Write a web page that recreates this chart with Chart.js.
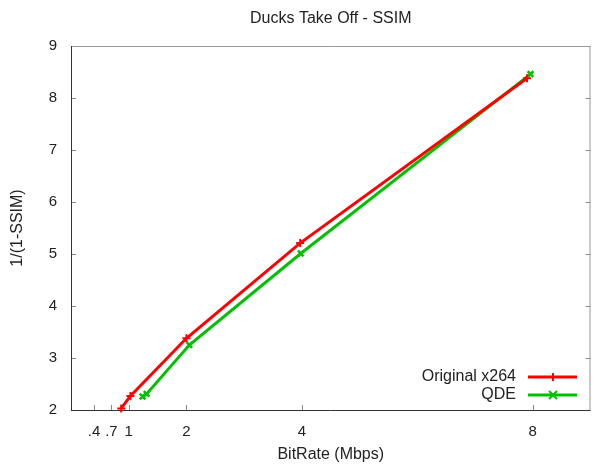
<!DOCTYPE html>
<html>
<head>
<meta charset="utf-8">
<script src="https://cdn.jsdelivr.net/npm/chart.js@4"></script>
<style>
html,body{margin:0;padding:0;background:#fff;}
#wrap{width:597px;height:468px;position:relative;}
</style>
</head>
<body>
<div id="wrap"><canvas id="c" width="597" height="468"></canvas></div>
<script>
// ---- data ----
const titleText = 'Ducks Take Off - SSIM';
const xTitle = 'BitRate (Mbps)';
const yTitle = '1/(1-SSIM)';
const seriesNames = ['Original x264', 'QDE'];
const origX = [0.87, 1.03, 2.00, 3.97, 7.90];
const origY = [2.03, 2.27, 3.38, 5.21, 8.38];
const qdeX  = [1.24, 1.31, 2.05, 3.98, 7.96];
const qdeY  = [2.26, 2.31, 3.25, 5.01, 8.46];
const xTickValues = [0.4, 0.7, 1, 2, 4, 8];
const xTickLabels = ['.4', '.7', '1', '2', '4', '8'];
const yTickValues = [2, 3, 4, 5, 6, 7, 8, 9];

const FONT = '"Liberation Sans", Arial, sans-serif';
const pts = (xs, ys) => xs.map((x, i) => ({x: x, y: ys[i]}));

const framePlugin = {
  id: 'frame',
  beforeDatasetsDraw(chart) {
    const {ctx, chartArea: a, scales} = chart;
    ctx.save();
    // ticks
    ctx.strokeStyle = '#888';
    ctx.lineWidth = 1;
    ctx.beginPath();
    yTickValues.forEach(v => {
      const y = Math.round(scales.y.getPixelForValue(v)) + 0.5;
      ctx.moveTo(a.left, y); ctx.lineTo(a.left + 5, y);
      ctx.moveTo(a.right, y); ctx.lineTo(a.right - 5, y);
    });
    xTickValues.forEach(v => {
      const x = Math.round(scales.x.getPixelForValue(v)) + 0.5;
      ctx.moveTo(x, a.bottom); ctx.lineTo(x, a.bottom - 5);
    });
    ctx.stroke();
    // border
    ctx.lineWidth = 1;
    ctx.strokeStyle = '#999';
    ctx.beginPath();
    ctx.moveTo(a.left, a.top + 0.5); ctx.lineTo(a.right, a.top + 0.5);
    ctx.moveTo(a.right - 0.5, a.top); ctx.lineTo(a.right - 0.5, a.bottom);
    ctx.stroke();
    ctx.strokeStyle = '#333';
    ctx.beginPath();
    ctx.moveTo(a.left + 0.5, a.top); ctx.lineTo(a.left + 0.5, a.bottom);
    ctx.moveTo(a.left, a.bottom + 0.5); ctx.lineTo(a.right, a.bottom + 0.5);
    ctx.stroke();
    ctx.restore();
  },
  afterDraw(chart) {
    const {ctx, chartArea: a} = chart;
    ctx.save();
    ctx.fillStyle = '#222';
    ctx.textAlign = 'center';
    ctx.textBaseline = 'middle';
    ctx.font = '16px ' + FONT;
    ctx.fillText(titleText, (a.left + a.right) / 2, 19);
    ctx.fillText(xTitle, (a.left + a.right) / 2, 455);
    ctx.save();
    ctx.translate(18, (a.top + a.bottom) / 2);
    ctx.rotate(-Math.PI / 2);
    ctx.fillText(yTitle, 0, 0);
    ctx.restore();
    // legend
    const rows = [377, 395];
    chart.data.datasets.forEach((ds, i) => {
      const y = rows[i];
      ctx.textAlign = 'right';
      ctx.fillStyle = '#222';
      ctx.font = '16px ' + FONT;
      ctx.fillText(ds.label, 516, y);
      ctx.strokeStyle = ds.borderColor;
      ctx.lineWidth = 3;
      ctx.beginPath();
      ctx.moveTo(528, y); ctx.lineTo(577, y);
      ctx.stroke();
      const s = 4;
      ctx.lineWidth = 2;
      ctx.beginPath();
      if (ds.pointStyle === 'cross') {
        ctx.moveTo(553 - s, y); ctx.lineTo(553 + s, y);
        ctx.moveTo(553, y - s); ctx.lineTo(553, y + s);
      } else {
        ctx.moveTo(553 - s, y - s); ctx.lineTo(553 + s, y + s);
        ctx.moveTo(553 + s, y - s); ctx.lineTo(553 - s, y + s);
      }
      ctx.stroke();
    });
    ctx.restore();
  }
};

new Chart(document.getElementById('c'), {
  type: 'scatter',
  data: {
    datasets: [
      {label: seriesNames[0], data: pts(origX, origY), showLine: true,
       borderColor: '#ff0000', backgroundColor: '#ff0000', borderWidth: 3,
       pointStyle: 'cross', pointRadius: 4, pointBorderWidth: 2, tension: 0, clip: false},
      {label: seriesNames[1], data: pts(qdeX, qdeY), showLine: true,
       borderColor: '#00c000', backgroundColor: '#00c000', borderWidth: 3,
       pointStyle: 'crossRot', pointRadius: 4, pointBorderWidth: 2.5, tension: 0, clip: false}
    ]
  },
  options: {
    responsive: false,
    animation: false,
    devicePixelRatio: 1,
    layout: {padding: {top: 46, right: 3, left: 0, bottom: 0}},
    plugins: {legend: {display: false}, title: {display: false}, tooltip: {enabled: false}},
    scales: {
      x: {
        type: 'linear', min: 0, max: 9,
        afterBuildTicks: s => { s.ticks = xTickValues.map(v => ({value: v})); },
        afterFit: s => { s.height = 58; },
        grid: {display: false, drawTicks: false},
        border: {display: false},
        ticks: {
          padding: 13, color: '#222', font: {family: FONT, size: 15}, maxRotation: 0, autoSkip: false,
          callback: v => { const i = xTickValues.indexOf(v); return i >= 0 ? xTickLabels[i] : ''; }
        }
      },
      y: {
        type: 'linear', min: 2, max: 9,
        afterBuildTicks: s => { s.ticks = yTickValues.map(v => ({value: v})); },
        afterFit: s => { s.width = 71; },
        grid: {display: false, drawTicks: false},
        border: {display: false},
        ticks: {padding: 14, color: '#222', font: {family: FONT, size: 15}}
      }
    }
  },
  plugins: [framePlugin]
});
</script>
</body>
</html>
